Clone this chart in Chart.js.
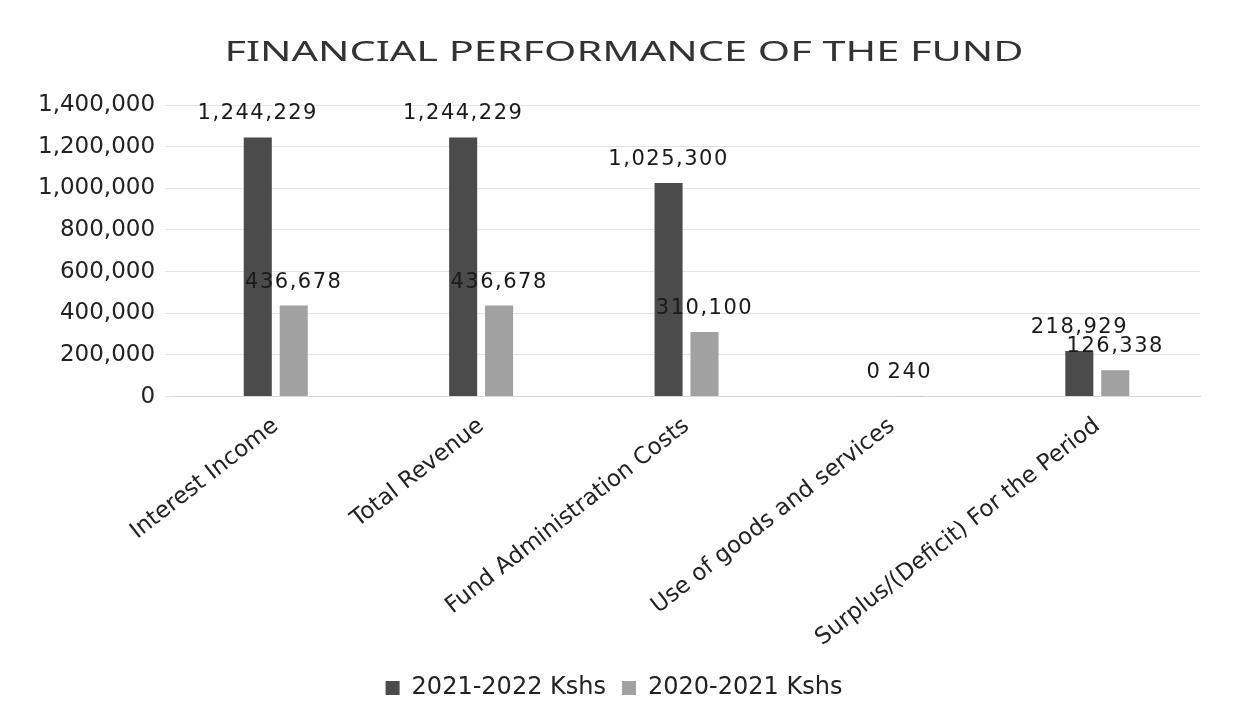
<!DOCTYPE html>
<html>
<head>
<meta charset="utf-8">
<script src="https://cdn.jsdelivr.net/npm/chart.js@4/dist/chart.umd.min.js"></script>
<style>
  html, body { margin: 0; padding: 0; background: #fff; }
  #wrap { width: 1234px; height: 715px; }
</style>
</head>
<body>
<div id="wrap"><canvas id="fundChart"></canvas></div>
<script>
const chart_title = "FINANCIAL PERFORMANCE OF THE FUND"
const categories = [
  "Interest Income",
  "Total Revenue",
  "Fund Administration Costs",
  "Use of goods and services",
  "Surplus/(Deficit) For the Period"
]
const values_2021_2022 = [1244229, 1244229, 1025300, 0, 218929]
const values_2020_2021 = [436678, 436678, 310100, 240, 126338]
const y_ticks = [0, 200000, 400000, 600000, 800000, 1000000, 1200000, 1400000]

const fmt = n => n.toLocaleString("en-US")

// draws the value above each bar
const valueLabels = {
  id: "valueLabels",
  afterDatasetsDraw(chart) {
    let ctx = chart.ctx
    ctx.save()
    ctx.font = "21px 'DejaVu Sans'"
    ctx.letterSpacing = "1.5px"
    ctx.fillStyle = "#1a1a1a"
    ctx.textAlign = "center"
    ctx.textBaseline = "bottom"
    chart.data.datasets.forEach((ds, i) => {
      chart.getDatasetMeta(i).data.forEach((bar, j) => {
        ctx.fillText(fmt(ds.data[j]), bar.x, bar.y - 13)
      })
    })
    ctx.restore()
  }
}

// wide title, the scan is stretched sideways
const wideTitle = {
  id: "wideTitle",
  afterDraw(chart) {
    let ctx = chart.ctx
    ctx.save()
    ctx.translate(624, 53)
    ctx.scale(1.48, 1)
    ctx.font = "28px 'Noto Sans'"
    ctx.fillStyle = "#333"
    ctx.textAlign = "center"
    ctx.textBaseline = "middle"
    ctx.fillText(chart_title, 0, 0)
    ctx.restore()
  }
}

let ctx = document.getElementById("fundChart")
let fund_chart = new Chart(ctx, {
  type: "bar",
  data: {
    labels: categories,
    datasets: [
      {
        label: "2021-2022 Kshs",
        data: values_2021_2022,
        backgroundColor: "#4b4b4b",
        barPercentage: 0.78,
        categoryPercentage: 0.35
      },
      {
        label: "2020-2021 Kshs",
        data: values_2020_2021,
        backgroundColor: "#a1a1a1",
        barPercentage: 0.78,
        categoryPercentage: 0.35
      }
    ]
  },
  options: {
    responsive: true,
    maintainAspectRatio: false,
    animation: false,
    layout: {
      padding: { left: 28, right: 34, top: 105, bottom: 5 }
    },
    plugins: {
      title: { display: false },
      legend: {
        position: "bottom",
        labels: {
          color: "#222",
          font: { family: "'DejaVu Sans'", size: 24 },
          boxWidth: 14,
          boxHeight: 14,
          padding: 16
        }
      },
      tooltip: { enabled: false }
    },
    scales: {
      x: {
        grid: { display: false },
        border: { color: "#d8d8d8" },
        ticks: {
          color: "#222",
          font: { family: "'DejaVu Sans'", size: 23 },
          minRotation: 38,
          maxRotation: 38,
          padding: 8
        }
      },
      y: {
        min: 0,
        max: 1400000,
        afterBuildTicks: axis => {
          axis.ticks = y_ticks.map(v => ({ value: v }))
        },
        border: { display: false },
        grid: { color: "#e4e4e4" },
        ticks: {
          color: "#222",
          font: { family: "'DejaVu Sans'", size: 23 },
          padding: 10,
          callback: v => fmt(v)
        }
      }
    }
  },
  plugins: [valueLabels, wideTitle]
})
</script>
</body>
</html>
